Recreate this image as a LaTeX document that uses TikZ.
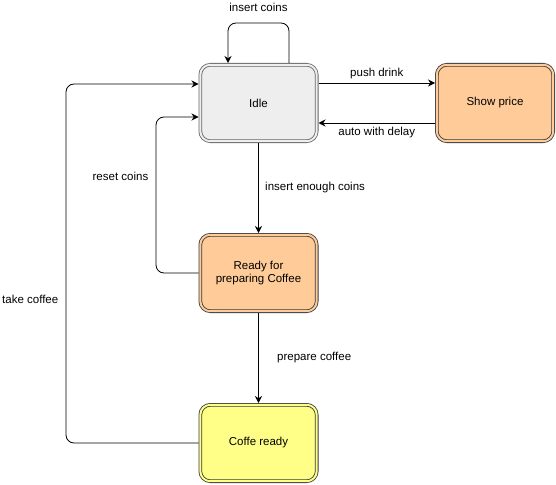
\documentclass[tikz,border=0pt]{standalone}
\usepackage{fontspec}
\setmainfont{Liberation Sans}
\usetikzlibrary{shapes, arrows.meta, positioning}
\definecolor{idlefill}{HTML}{EEEEEE}
\definecolor{idleline}{HTML}{666666}
\definecolor{orangefill}{HTML}{FFCC99}
\definecolor{yellowfill}{HTML}{FFFF88}
\definecolor{darkline}{HTML}{36393D}

\begin{document}
\begin{tikzpicture}[x=1pt,y=-1pt,node distance=170pt,on grid,
		font=\fontsize{11.5}{13.5}\selectfont, line width=0.8pt,
		>={Stealth[length=7pt,width=7pt]},
		box/.style 2 args={rectangle, rounded corners=10pt, draw=#1, fill=#2,
			double=#2, double distance=2pt, outer sep=1.8pt,
			minimum width=116.4pt, minimum height=76.4pt, align=center}]
			\useasboundingbox (0,0) rectangle (556,484);
			\node[box={idleline}{idlefill}] (idle) at (258.5,103) {Idle};
			\node[box={darkline}{orangefill}] (show) [right=236.5pt of idle] {Show price};
			\node[box={darkline}{orangefill}] (ready) [below=170pt of idle] {Ready for\\preparing Coffee};
			\node[box={darkline}{yellowfill}] (done) [below=170pt of ready] {Coffe ready};
			\coordinate (rc) at (156,117);
			\coordinate (tc) at (66,84);
			\path[->]
				([yshift=20pt]idle.east) edge node [above] {push drink} ([yshift=20pt]show.west)
				([yshift=-20pt]show.west) edge node [below] {auto with delay} ([yshift=-20pt]idle.east)
				(idle) edge node [right=3pt, anchor=west] {insert enough coins} (ready)
				(ready) edge node [right=15pt, anchor=west] {prepare coffee} (done);
			\draw[->, rounded corners=8pt] ([xshift=30.5pt]idle.north) -- ++(0,-40)
				-| node [above=8pt, pos=0.25] {insert coins} ([xshift=-30.5pt]idle.north);
			\draw[->, rounded corners=8pt] (ready.west) -| node [left=4pt, pos=0.81] {reset coins} (rc)
				-- ([yshift=-14pt]idle.west);
			\draw[->, rounded corners=8pt] (done.west) -| node [left=4pt, pos=0.7] {take coffee} (tc)
				-- ([yshift=19pt]idle.west);
		\end{tikzpicture}
\end{document}
